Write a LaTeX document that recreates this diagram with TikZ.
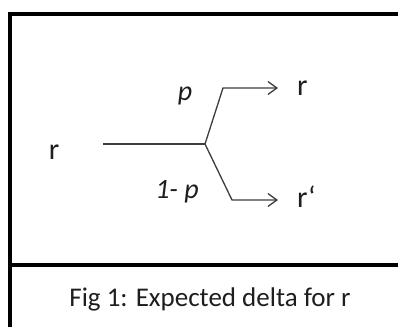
\documentclass[tikz,border=0pt]{standalone}
\usepackage{fontspec}
\setmainfont{Carlito}
\usetikzlibrary{arrows.meta}
\definecolor{figink}{RGB}{30,30,30}
\definecolor{figline}{RGB}{60,60,60}

\begin{document}
\begin{tikzpicture}[x=1pt,y=-1pt,
    frame/.style={line width=3.5pt, draw=black},
    branch/.style={line width=1.3pt, draw=figline},
    outcome/.style={anchor=west, inner xsep=19pt, inner ysep=0pt, text height=14pt,
                    text depth=0pt, font=\fontsize{30}{36}\selectfont, text=figink},
    prob/.style={anchor=base, inner sep=0pt, font=\fontsize{28}{34}\selectfont\itshape, text=figink}]
  \useasboundingbox (0,0) rectangle (398,327);
  % frame and caption strip
  \draw[frame] (10,327) -- (10,14) -- (398,14);
  \draw[frame] (10,265) -- (398,265);
  \node[anchor=base, inner sep=0pt, font=\fontsize{27}{32}\selectfont, text=figink] (caption)
    at (210,306.5) {Fig 1: Expected delta for r};
  % tree
  \node[anchor=base, inner sep=0pt, font=\fontsize{30}{36}\selectfont, text=figink] (rin) at (54,159.5) {r};
  \coordinate (start) at (103,144);
  \coordinate (fork) at (205,144);
  \coordinate (up) at (223,88);
  \coordinate (dn) at (232,200);
  \node[outcome] (rup) at (278,88) {r};
  \node[outcome] (rdn) at (278,200) {r‘};
  \node[prob] (pup) at (185,100) {p};
  \node[prob] (pdn) at (177,198) {1- p};
  \draw[branch] (start) -- (fork);
  \draw[branch, -{Straight Barb[length=9pt,width=13pt]}] (fork) -- (up) -- (rup.west);
  \draw[branch, -{Straight Barb[length=9pt,width=13pt]}] (fork) -- (dn) -- (rdn.west);
\end{tikzpicture}
\end{document}
